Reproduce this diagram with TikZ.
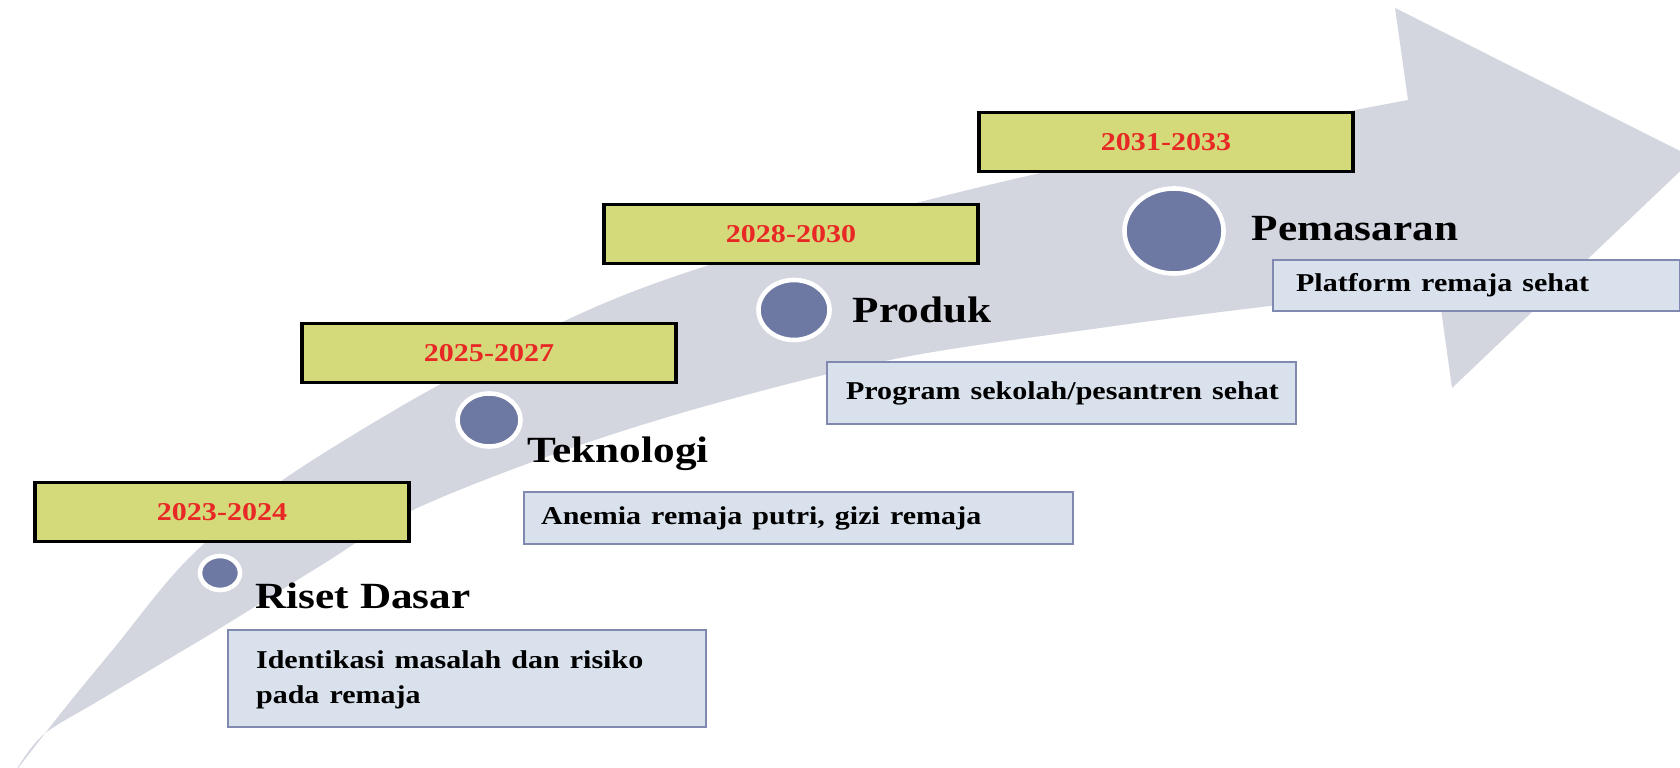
\documentclass[tikz,border=0pt]{standalone}
\usepackage{fontspec}
\setmainfont{Liberation Serif}
\usepackage{graphicx}
\usepackage{tikz}
\usetikzlibrary{positioning,shapes.geometric}

\definecolor{arrowgray}{RGB}{211,213,223}
\definecolor{yearfill}{RGB}{212,218,122}
\definecolor{yearred}{RGB}{232,40,36}
\definecolor{descfill}{RGB}{217,225,236}
\definecolor{descline}{RGB}{128,137,176}
\definecolor{dotblue}{RGB}{110,121,163}

\newcommand{\wide}[1]{\scalebox{1.17}[1]{#1}}

\begin{document}
\begin{tikzpicture}[x=0.01cm, y=-0.01cm,
			yearbox/.style={rectangle, draw=black, fill=yearfill, line width=1.1pt, minimum width=3.74cm, minimum height=0.59cm, inner sep=0pt, text=yearred, font=\fontsize{7.3}{9}\selectfont\bfseries},
			descbox/.style={rectangle, draw=descline, fill=descfill, line width=0.6pt, anchor=north west, align=left, inner ysep=0pt, font=\fontsize{7.3}{10}\selectfont\bfseries},
			stagedot/.style={ellipse, fill=dotblue, draw=white, line width=1.3pt, inner sep=0pt},
			stagetitle/.style={anchor=base west, inner sep=0pt, font=\fontsize{10.5}{12}\selectfont\bfseries},
			]
			\useasboundingbox (0,0) rectangle (1680,768);

			%Arrow
				\fill[arrowgray] plot[smooth, tension=0.55] coordinates {(15,772) (43,735) (100,700) (167,660) (227,624) (320,566) (413,510) (560,452) (713,404) (900,358) (1100,328) (1270,306) (1438,288)}
					-- (1452,388) -- (1694,158) -- (1395,8) -- (1408,100)
					-- plot[smooth, tension=0.55] coordinates {(1408,100) (1100,160) (890,210) (700,268) (600,305) (500,353) (400,407) (277,484) (187,560) (115,647) (65,708) (15,772)}
					-- cycle;

			%Years
				\node[yearbox]		(year-1)		at (222,512)		{\wide{2023-2024}};
				\node[yearbox]		(year-2)		at (489,353)		{\wide{2025-2027}};
				\node[yearbox]		(year-3)		at (791,234)		{\wide{2028-2030}};
				\node[yearbox]		(year-4)		at (1166,142)		{\wide{2031-2033}};

			%Dots
				\node[stagedot, minimum width=0.40cm, minimum height=0.34cm]		(dot-1)		at (220,573)		{};
				\node[stagedot, minimum width=0.63cm, minimum height=0.53cm]		(dot-2)		at (489,420)		{};
				\node[stagedot, minimum width=0.71cm, minimum height=0.60cm]		(dot-3)		at (794,310)		{};
				\node[stagedot, minimum width=0.99cm, minimum height=0.85cm]		(dot-4)		at (1174,231)		{};

			%Stages
				\node[stagetitle]		(title-1)		at (255,609)		{\wide{Riset Dasar}};
				\node[stagetitle]		(title-2)		at (527,463)		{\wide{Teknologi}};
				\node[stagetitle]		(title-3)		at (852,323)		{\wide{Produk}};
				\node[stagetitle]		(title-4)		at (1251,241)		{\wide{Pemasaran}};

			%Descriptions
				\node[descbox, inner xsep=0.28cm, text width=4.22cm, minimum height=0.97cm]		(desc-1)		at (227,629)		{\wide{\begin{tabular}{@{}l@{}}Identikasi masalah dan risiko\\pada remaja\end{tabular}}};
				\node[descbox, inner xsep=0.17cm, text width=5.15cm, minimum height=0.52cm]		(desc-2)		at (523,491)		{\wide{Anemia remaja putri, gizi remaja}};
				\node[descbox, inner xsep=0.19cm, text width=4.31cm, minimum height=0.62cm]		(desc-3)		at (826,361)		{\wide{Program sekolah/pesantren sehat}};
				\node[descbox, inner xsep=0.23cm, text width=3.61cm, minimum height=0.51cm]		(desc-4)		at (1272,259)		{\wide{Platform remaja sehat}};
		\end{tikzpicture}
\end{document}
